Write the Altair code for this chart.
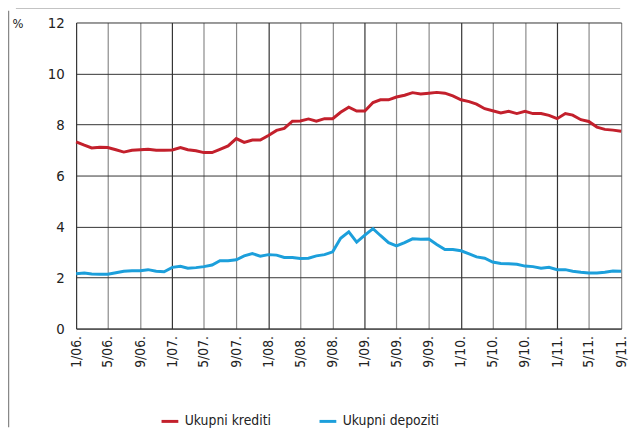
import altair as alt
import pandas as pd

months = pd.date_range("2006-01-01", "2011-09-01", freq="MS").strftime("%Y-%m-%d").tolist()

krediti = [7.32, 7.19, 7.08, 7.11, 7.10, 7.01, 6.92, 6.99, 7.01, 7.03, 6.99, 6.99,
           7.00, 7.10, 7.01, 6.97, 6.90, 6.90, 7.03, 7.16, 7.45, 7.30, 7.39, 7.39,
           7.57, 7.77, 7.85, 8.13, 8.14, 8.22, 8.13, 8.23, 8.23, 8.48, 8.68, 8.53,
           8.53, 8.86, 8.97, 8.97, 9.08, 9.15, 9.25, 9.20, 9.23, 9.26, 9.23, 9.12,
           8.97, 8.90, 8.80, 8.62, 8.54, 8.45, 8.52, 8.43, 8.52, 8.43, 8.43, 8.36,
           8.23, 8.43, 8.37, 8.19, 8.12, 7.90, 7.81, 7.78, 7.74]

depoziti = [2.15, 2.18, 2.14, 2.13, 2.13, 2.19, 2.25, 2.27, 2.27, 2.31, 2.25, 2.23,
            2.40, 2.44, 2.37, 2.39, 2.43, 2.49, 2.66, 2.66, 2.70, 2.85, 2.94, 2.84,
            2.90, 2.88, 2.79, 2.79, 2.75, 2.76, 2.85, 2.90, 3.01, 3.54, 3.79, 3.39,
            3.66, 3.92, 3.65, 3.37, 3.24, 3.37, 3.52, 3.50, 3.51, 3.30, 3.10, 3.10,
            3.05, 2.93, 2.81, 2.76, 2.61, 2.55, 2.54, 2.52, 2.45, 2.43, 2.37, 2.40,
            2.31, 2.31, 2.25, 2.21, 2.18, 2.18, 2.21, 2.26, 2.25]

series_names = ["Ukupni krediti", "Ukupni depoziti"]
series_colors = ["#c3202c", "#1c9fdb"]
y_ticks = [0, 2, 4, 6, 8, 10, 12]

rows = []
for name, vals in zip(series_names, [krediti, depoziti]):
    for m, v in zip(months, vals):
        rows.append({"date": m, "value": v, "series": name})
df = pd.DataFrame(rows)

FONT = "DejaVu Sans Condensed, Roboto, sans-serif"

lines = alt.Chart(df).mark_line(strokeWidth=3).encode(
    x=alt.X("date:T",
            scale=alt.Scale(type="utc", domain=["2006-01-01", "2011-09-01"], nice=False),
            axis=alt.Axis(title=None, format="%-m/%y.",
                          tickCount={"interval": "month", "step": 4},
                          labelAngle=270, labelAlign="right", labelBaseline="middle",
                          labelPadding=7, ticks=False, domain=True, domainColor="#333",
                          labelFontSize=14, labelColor="#222", labelFont=FONT,
                          grid=True,
                          gridColor={"condition": {"test": "utcmonth(datum.value) == 0", "value": "#333"},
                                     "value": "#8a8a8a"},
                          gridWidth=1.2, labelFlush=False, labelOverlap=False)),
    y=alt.Y("value:Q",
            scale=alt.Scale(domain=[0, 12], nice=False),
            axis=alt.Axis(title=None, values=y_ticks, ticks=False, domain=False,
                          labelPadding=12, labelFontSize=15, labelColor="#222",
                          labelFont=FONT, gridColor="#333", gridWidth=1)),
    color=alt.Color("series:N",
                    scale=alt.Scale(domain=series_names, range=series_colors),
                    legend=alt.Legend(title=None, orient="none", legendX=85, legendY=394,
                                      direction="horizontal", symbolType="stroke",
                                      symbolStrokeWidth=3, symbolSize=289,
                                      labelFontSize=14, labelFont=FONT, labelColor="#222",
                                      columnPadding=42, labelOffset=5)),
)

top_rule = alt.Chart(alt.Data(values=[{}])).mark_rule(color="#888", strokeWidth=1.5).encode(
    x=alt.value(-61), x2=alt.value(551), y=alt.value(-15)
)
left_rule = alt.Chart(alt.Data(values=[{}])).mark_rule(color="#888", strokeWidth=1.5).encode(
    x=alt.value(-68.5), y=alt.value(-12), y2=alt.value(410)
)
pct = alt.Chart(alt.Data(values=[{}])).mark_text(
    text="%", fontSize=13, font=FONT, color="#222"
).encode(x=alt.value(-59), y=alt.value(2))

chart = alt.layer(top_rule, left_rule, pct, lines).properties(
    width=552, height=310,
    autosize=alt.AutoSizeParams(type="none"),
    padding={"left": 69, "top": 12, "right": 13, "bottom": 98},
).configure_view(stroke=None)

chart.save("out.html", embed_options={"renderer": "svg", "actions": False})
